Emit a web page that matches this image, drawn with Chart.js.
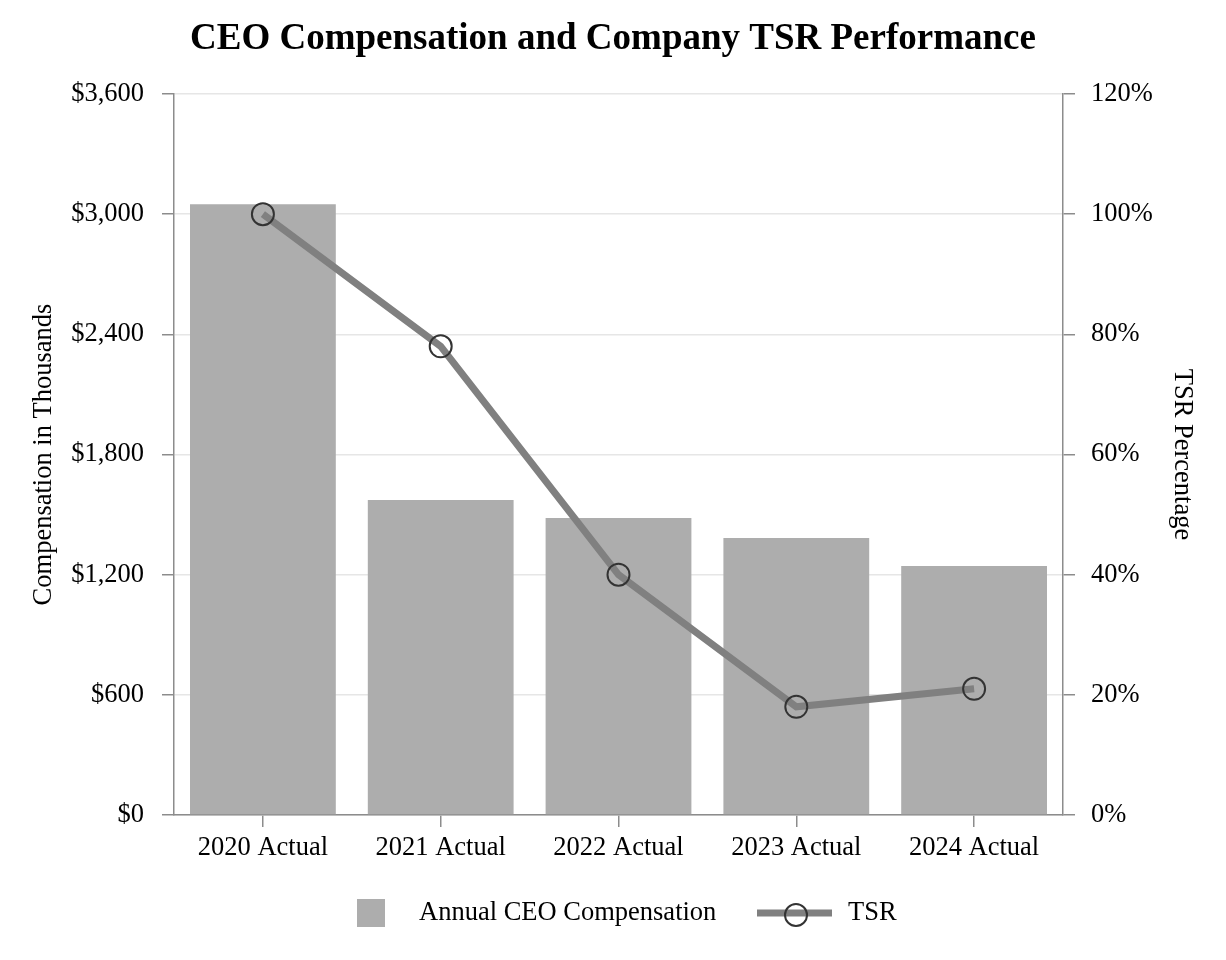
<!DOCTYPE html>
<html>
<head>
<meta charset="utf-8">
<script src="https://cdn.jsdelivr.net/npm/chart.js@4.4.1/dist/chart.umd.min.js"></script>
<style>
  html, body { margin: 0; padding: 0; background: #fff; }
  #wrap { width: 1226px; height: 960px; }
</style>
</head>
<body>
<div id="wrap"><canvas id="tsrChart" width="1226" height="960"></canvas></div>
<script>
// datos
var years = ['2020 Actual', '2021 Actual', '2022 Actual', '2023 Actual', '2024 Actual'];
var compensation = [3050, 1573, 1483, 1383, 1243];   // miles de dolares
var tsr = [100, 78, 40, 18, 21];                      // porcentaje
var compTicks = [0, 600, 1200, 1800, 2400, 3000, 3600];
var tsrTicks = [0, 20, 40, 60, 80, 100, 120];

var serif = '"Liberation Serif", "Times New Roman", serif';
var fs = 26.5;
var barColor = '#adadad';
var lineColor = '#808080';
var markerColor = '#333333';
var axisColor = '#8c8c8c';

// titulo y leyenda dibujados a mano
var extras = {
    id: 'extras',
    afterDraw: function(chart) {
        var c = chart.ctx;
        c.save();
        c.fillStyle = '#000';
        c.textAlign = 'center';
        c.textBaseline = 'middle';
        c.font = 'bold 37px ' + serif;
        c.fillText('CEO Compensation and Company TSR Performance', 613, 39);

        // leyenda
        var ly = 913;
        c.fillStyle = barColor;
        c.fillRect(357, 899, 28, 28);
        c.fillStyle = '#000';
        c.textAlign = 'left';
        c.font = fs + 'px ' + serif;
        c.fillText(chart.data.datasets[0].label, 419, ly);

        c.strokeStyle = lineColor;
        c.lineWidth = 7;
        c.beginPath();
        c.moveTo(757, ly);
        c.lineTo(832, ly);
        c.stroke();
        c.strokeStyle = markerColor;
        c.lineWidth = 2;
        c.beginPath();
        c.arc(796, ly + 2, 11, 0, Math.PI * 2);
        c.stroke();
        c.fillText(chart.data.datasets[1].label, 848, ly);
        c.restore();
    }
};

var ctx = document.getElementById('tsrChart').getContext('2d');
var myChart = new Chart(ctx, {
    type: 'bar',
    data: {
        labels: years,
        datasets: [{
            type: 'bar',
            label: 'Annual CEO Compensation',
            data: compensation,
            backgroundColor: barColor,
            yAxisID: 'y',
            categoryPercentage: 1,
            barPercentage: 0.82,
            order: 2
        }, {
            type: 'line',
            label: 'TSR',
            data: tsr,
            yAxisID: 'y1',
            borderColor: lineColor,
            borderWidth: 7,
            tension: 0,
            pointRadius: 11,
            pointHoverRadius: 11,
            pointBorderWidth: 2,
            pointBorderColor: markerColor,
            pointBackgroundColor: 'rgba(0,0,0,0)',
            order: 1
        }]
    },
    options: {
        responsive: false,
        animation: false,
        layout: { padding: { top: 94, bottom: 85, left: 0, right: 0 } },
        plugins: {
            legend: { display: false },
            title: { display: false },
            tooltip: { enabled: false }
        },
        scales: {
            x: {
                grid: { display: true, drawOnChartArea: false, offset: false, tickLength: 12, tickColor: axisColor, lineWidth: 1.5 },
                border: { color: axisColor, width: 1.5 },
                ticks: { color: '#000', font: { family: serif, size: fs }, padding: 5 },
                afterFit: function(s) { s.height = 60; }
            },
            y: {
                position: 'left',
                min: 0,
                max: 3600,
                afterBuildTicks: function(s) { s.ticks = compTicks.map(function(v) { return { value: v }; }); },
                grid: { color: '#e6e6e6', lineWidth: 1.5, tickLength: 12, tickColor: axisColor },
                border: { color: axisColor, width: 1.5 },
                ticks: {
                    color: '#000',
                    font: { family: serif, size: fs },
                    padding: 18,
                    callback: function(v) { return '$' + v.toLocaleString('en-US'); }
                },
                title: { display: true, text: 'Compensation in Thousands', color: '#000', font: { family: serif, size: fs }, padding: { top: 28, bottom: 0 } },
                afterFit: function(s) { s.width = 174; }
            },
            y1: {
                position: 'right',
                min: 0,
                max: 120,
                afterBuildTicks: function(s) { s.ticks = tsrTicks.map(function(v) { return { value: v }; }); },
                grid: { drawOnChartArea: false, lineWidth: 1.5, tickLength: 12, tickColor: axisColor },
                border: { color: axisColor, width: 1.5 },
                ticks: {
                    color: '#000',
                    font: { family: serif, size: fs },
                    padding: 16,
                    callback: function(v) { return v + '%'; }
                },
                title: { display: true, text: 'TSR Percentage', color: '#000', font: { family: serif, size: fs }, padding: { top: 28, bottom: 0 } },
                afterFit: function(s) { s.width = 163; }
            }
        }
    },
    plugins: [extras]
});
</script>
</body>
</html>
